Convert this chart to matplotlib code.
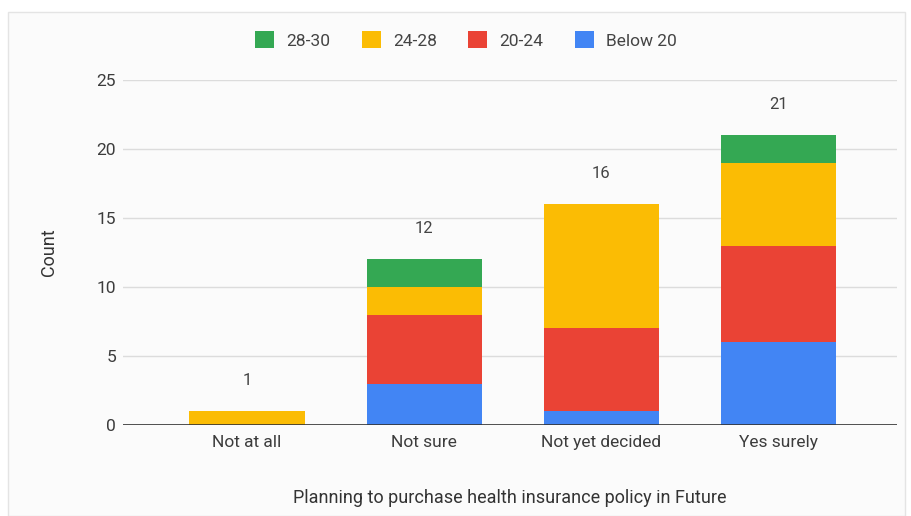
import numpy as np
import matplotlib.pyplot as plt
from matplotlib.patches import Rectangle

# =========================
# DATA
# =========================

categories = ["Not at all", "Not sure", "Not yet decided", "Yes surely"]

below_20 = [0, 3, 1, 6]
age_20_24 = [0, 5, 6, 7]
age_24_28 = [1, 2, 9, 6]
age_28_30 = [0, 2, 0, 2]

series = [
    ("Below 20", below_20, "#4285f4"),
    ("20-24", age_20_24, "#ea4335"),
    ("24-28", age_24_28, "#fbbc04"),
    ("28-30", age_28_30, "#34a853"),
]

yticks = [0, 5, 10, 15, 20, 25]

# =========================
# FIGURE
# =========================

plt.rcParams["font.family"] = ["Roboto", "DejaVu Sans"]

fig = plt.figure(figsize=(9.12, 5.16), dpi=100)
fig.patch.set_facecolor("white")

# light card frame behind the chart
fig.patches.append(Rectangle((8 / 912, 0), 897 / 912, 1 - 12 / 516,
                             transform=fig.transFigure, facecolor="#fbfbfb",
                             edgecolor="#e4e4e4", linewidth=1, zorder=-10))

ax = fig.add_axes([123 / 912, 91 / 516, 774 / 912, 345 / 516])
ax.set_facecolor("none")

x = np.arange(len(categories))
bottom = np.zeros(len(categories))
handles = {}

for name, vals, color in series:
    vals = np.array(vals, dtype=float)
    b = ax.bar(x, vals, width=0.65, bottom=bottom, color=color, zorder=3)
    handles[name] = b
    bottom += vals

# totals above bars
for xi, total in zip(x, bottom):
    ax.annotate(f"{int(total)}", (xi, total), xytext=(0, 22),
                textcoords="offset points", ha="center", va="center",
                fontsize=12, color="#444444")

ax.set_xlim(-0.70, 3.67)
ax.set_ylim(0, 25)
ax.set_yticks(yticks)
ax.set_xticks(x)
ax.set_xticklabels(categories)

ax.grid(axis="y", color="#dcdcdc", linewidth=1, zorder=0)
ax.axhline(0, color="#333333", linewidth=1.2, zorder=4)

for s in ax.spines.values():
    s.set_visible(False)

ax.tick_params(axis="both", length=0, labelsize=12.5, colors="#3c3c3c")
ax.tick_params(axis="y", pad=5)
ax.tick_params(axis="x", pad=7)

ax.set_ylabel("Count", fontsize=13, color="#333333", labelpad=28)
ax.set_xlabel("Planning to purchase health insurance policy in Future",
              fontsize=13, color="#333333", labelpad=28)

# legend, top order
order = ["28-30", "24-28", "20-24", "Below 20"]
fig.legend([handles[k] for k in order], order, loc="center",
           bbox_to_anchor=(466 / 912, 1 - 40 / 516), ncol=4, frameon=False,
           fontsize=12.5, handlelength=1.1, handleheight=1.1,
           columnspacing=1.8, handletextpad=0.7, labelcolor="#444444")

fig.savefig("out.png", dpi=100)
